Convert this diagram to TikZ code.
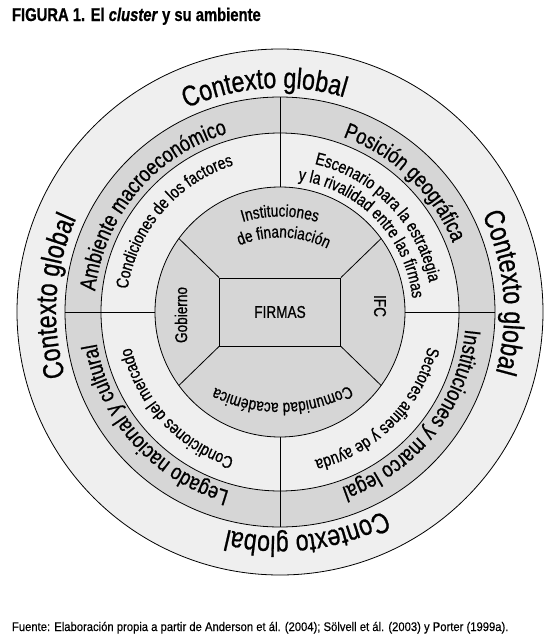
\documentclass[tikz,border=0pt]{standalone}
\usepackage{fontspec}
\setmainfont{Liberation Sans}[FakeStretch=0.8, FakeBold=0.7]
\newfontfamily\fuentefont{Liberation Sans}[FakeStretch=0.9, FakeBold=0.4]
\usetikzlibrary{decorations.text}

\definecolor{ringgray}{HTML}{D6D6D6}
\definecolor{ringlight}{HTML}{EFEFEF}

\newcommand\fglobal{\fontsize{29}{29}\selectfont}
\newcommand\fring{\fontsize{22.5}{22.5}\selectfont}
\newcommand\fsmall{\fontsize{17.5}{17.5}\selectfont}
\newcommand\finner{\fontsize{17}{17}\selectfont}

\tikzset{
  ringline/.style={draw=black, line width=0.8pt},
  arctext/.style={decorate, decoration={text along path, text align=center, text={#1}}},
  plain/.style={inner sep=0pt, outer sep=0pt}
}

\begin{document}
\begin{tikzpicture}[x=1pt,y=1pt]
\useasboundingbox (-280,-329) rectangle (273,312);
\fill[white] (-280,-329) rectangle (273,312);

\draw[ringline, fill=ringlight] (0,0) circle[radius=263];
\draw[ringline, fill=ringgray] (0,0) circle[radius=215];
\draw[ringline, fill=ringlight] (0,0) circle[radius=179];
\draw[ringline, fill=ringgray] (0,0) circle[radius=125];
\foreach \a in {0,90,180,270}
  \draw[ringline] (\a:125) -- (\a:215);

\node[ringline, fill=ringgray, minimum width=121pt, minimum height=68pt, font=\finner] (firmas) at (0,0) {FIRMAS};
\coordinate (nw) at (144:125);
\coordinate (ne) at (36:125);
\coordinate (sw) at (216:125);
\coordinate (se) at (-36:125);
\draw[ringline] (firmas.north west) -- (nw);
\draw[ringline] (firmas.north east) -- (ne);
\draw[ringline] (firmas.south west) -- (sw);
\draw[ringline] (firmas.south east) -- (se);

% contexto global
\path[arctext={|\fglobal|Contexto global}] (154:224) arc[start angle=154, end angle=34, radius=224];
\path[arctext={|\fglobal|Contexto global}] (65:224) arc[start angle=65, end angle=-55, radius=224];
\path[arctext={|\fglobal|Contexto global}] (337:224) arc[start angle=337, end angle=217, radius=224];
\path[arctext={|\fglobal|Contexto global}] (236:224) arc[start angle=236, end angle=116, radius=224];

% anillo gris
\path[arctext={|\fring|Ambiente macroeconómico}] (210:186) arc[start angle=210, end angle=70, radius=186];
\path[arctext={|\fring|Posición geográfica}] (116:186) arc[start angle=116, end angle=-24, radius=186];
\path[arctext={|\fring|Instituciones y marco legal}] (32:186) arc[start angle=32, end angle=-108, radius=186];
\path[arctext={|\fring|Legado nacional y cultural}] (292:186) arc[start angle=292, end angle=152, radius=186];

% anillo claro
\path[arctext={|\fsmall|Condiciones de los factores}] (209:154) arc[start angle=209, end angle=70, radius=154];
\path[arctext={|\fsmall|Escenario para la estrategia}] (114:152) arc[start angle=114, end angle=-26, radius=152];
\path[arctext={|\fsmall|y la rivalidad entre las firmas}] (114:133) arc[start angle=114, end angle=-26, radius=133];
\path[arctext={|\fsmall|Sectores afines y de ayuda}] (25:152) arc[start angle=25, end angle=-115, radius=152];
\path[arctext={|\fsmall|Condiciones del mercado}] (293:153) arc[start angle=293, end angle=153, radius=153];

% disco interior
\path[arctext={|\finner|Instituciones}] ([shift={(0,-32)}]140:127.5) arc[start angle=140, end angle=40, radius=127.5];
\path[arctext={|\finner|de financiación}] ([shift={(0,-32)}]138:106.5) arc[start angle=138, end angle=38, radius=106.5];
\path[arctext={|\finner|Comunidad académica}] ([shift={(0,54)}]321:145) arc[start angle=321, end angle=221, radius=145];
\node[plain, rotate=90, font=\finner] (gobierno) at (-99,-3) {Gobierno};
\node[plain, rotate=-90, font=\finner] (ifc) at (100,6) {IFC};

\node[plain, anchor=base west, font=\fontsize{18.5}{20}\selectfont\bfseries] (titulo) at (-268,291) {FIGURA 1. El \textit{cluster} y su ambiente};
\node[plain, anchor=base west, font=\fuentefont\fontsize{12.5}{14}\selectfont] (fuente) at (-268,-319) {Fuente: Elaboración propia a partir de Anderson et ál. (2004); Sölvell et ál. (2003) y Porter (1999a).};
\end{tikzpicture}
\end{document}
